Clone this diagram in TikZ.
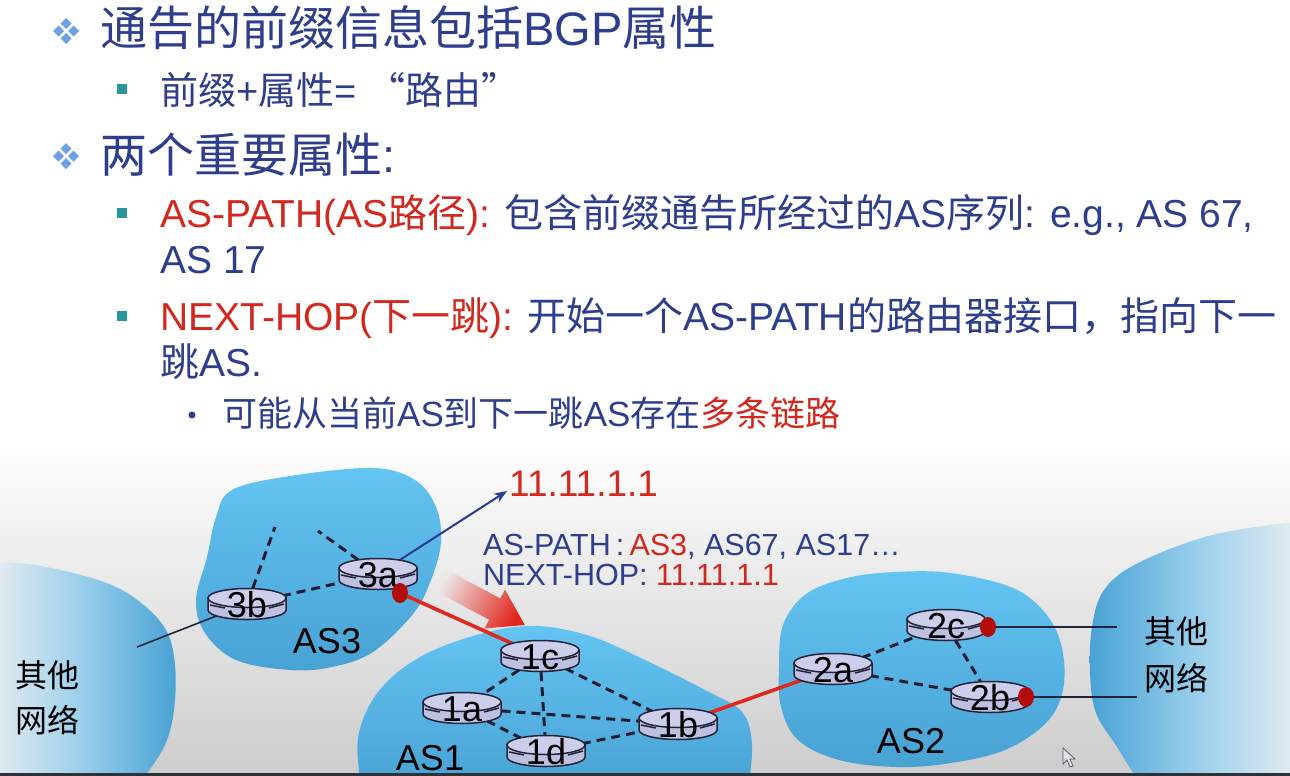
\documentclass[tikz,border=0pt]{standalone}
\usepackage{fontspec}
\setmainfont{Liberation Sans}
\newfontfamily\zh{Noto Sans CJK SC}
\usetikzlibrary{arrows.meta,shapes.geometric}

\definecolor{tblue}{RGB}{46,62,140}
\definecolor{tred}{RGB}{210,40,30}
\definecolor{teal}{RGB}{40,150,155}
\definecolor{diafill}{RGB}{110,160,230}
\definecolor{cloudtop}{RGB}{100,196,242}
\definecolor{cloudbot}{RGB}{72,162,212}
\definecolor{cloudfade}{RGB}{228,236,240}
\definecolor{cloudmid}{RGB}{150,205,235}
\definecolor{rfill}{RGB}{190,192,226}
\definecolor{rtopfill}{RGB}{204,206,236}
\definecolor{rline}{RGB}{35,35,55}
\definecolor{dotred}{RGB}{178,12,12}
\definecolor{linkred}{RGB}{225,40,30}
\definecolor{arrowblue}{RGB}{40,60,150}
\definecolor{dashcol}{RGB}{30,30,50}
\definecolor{bggrey}{RGB}{205,205,205}
\definecolor{strip}{RGB}{46,50,56}
\definecolor{fadebg}{RGB}{236,230,230}
\definecolor{cursorfill}{RGB}{225,225,228}
\definecolor{cursorline}{RGB}{90,90,100}

\pgfdeclarelayer{clouds}
\pgfdeclarelayer{links}
\pgfsetlayers{clouds,links,main}

\tikzset{
  txt/.style={anchor=west,inner sep=0pt,text=tblue},
  cloud/.style={top color=cloudtop,bottom color=cloudbot},
  rbody/.style={fill=rfill,draw=rline,line width=1.5pt},
  rtop/.style={fill=rtopfill,draw=rline,line width=1.5pt},
  rtick/.style={draw=rline,line width=1.5pt},
  rnode/.style={ellipse,minimum width=80pt,minimum height=32pt,inner sep=0pt},
  rtext/.style={anchor=base,inner sep=0pt,font=\fontsize{36}{36}\selectfont},
  rdot/.style={ellipse,fill=dotred,minimum width=16pt,minimum height=20pt,inner sep=0pt},
  dashedlink/.style={draw=dashcol,line width=3pt,dash pattern=on 9pt off 6pt},
  redlink/.style={draw=linkred,line width=3.6pt},
  thinlink/.style={draw=rline,line width=1.6pt},
  bluearrow/.style={draw=arrowblue,line width=2pt,-{Stealth[length=13pt,width=10pt]}},
  aslabel/.style={inner sep=0pt,font=\fontsize{36}{36}\selectfont,text=black},
  zhlabel/.style={inner sep=0pt,font=\zh\fontsize{32}{32}\selectfont,text=black},
  infotext/.style={anchor=west,inner sep=0pt,text=tblue,font=\fontsize{30.5}{30.5}\selectfont},
}

% router: name, x, y of the top ellipse centre, label
\newcommand\router[4]{%
  \path[rbody] (#2-39,#3) -- (#2-39,#3+12)
     arc[start angle=180,end angle=0,x radius=39,y radius=9.5] -- (#2+39,#3) -- cycle;
  \path[rtop] (#2,#3) ellipse[x radius=39,y radius=9.5];
  \draw[rtick] (#2-37,#3+7) -- (#2-22,#3+10);
  \draw[rtick] (#2+22,#3+10) -- (#2+37,#3+6);
  \node[rnode] (#1) at (#2,#3+6) {};
  \node[rtext] (#1t) at (#2,#3+19) {#4};
}

\begin{document}
\begin{tikzpicture}[x=1pt,y=-1pt]
\useasboundingbox (0,0) rectangle (1290,776);
\begin{pgfonlayer}{clouds}
\fill[white] (0,0) rectangle (1290,776);
\shade[top color=white,bottom color=bggrey] (0,440) rectangle (1290,773);
\end{pgfonlayer}

% ---------- bullet list ----------
\foreach \cy in {31,156}{
  \foreach \dx/\dy in {0/-7.5,-7.5/0,7.5/0,0/7.5}{
    \fill[diafill,shift={(\dx,\dy)}] (66,\cy) +(0,-5.5) -- +(5.5,0) -- +(0,5.5) -- +(-5.5,0) -- cycle;
  }
}
\foreach \cy in {89,213,316}{
  \fill[teal] (117,\cy-5) rectangle (127,\cy+5);
}
\fill[tblue] (192,415) circle[radius=3.5];

\node[txt,font=\fontsize{47}{47}\selectfont] (l1) at (100,28)
  {{\zh 通告的前缀信息包括}BGP{\zh 属性}};
\node[txt,font=\fontsize{38}{38}\selectfont] (l2) at (160,90)
  {{\zh 前缀}+{\zh 属性}= {\zh “路由”}};
\node[txt,font=\fontsize{47}{47}\selectfont] (l3) at (100,155)
  {{\zh 两个重要属性}:};
\node[txt,font=\fontsize{39}{39}\selectfont] (l4) at (160,215)
  {{\color{tred}AS-PATH(AS{\zh 路径}):} {\zh 包含前缀通告所经过的}AS{\zh 序列}: e.g., AS 67,};
\node[txt,font=\fontsize{39}{39}\selectfont] (l5) at (160,260) {AS 17};
\node[txt,font=\fontsize{39}{39}\selectfont] (l6) at (160,318)
  {{\color{tred}NEXT-HOP({\zh 下一跳}):} {\zh 开始一个}AS-PATH{\zh 的路由器接口，指向下一}};
\node[txt,font=\fontsize{39}{39}\selectfont] (l7) at (160,362) {{\zh 跳}AS.};
\node[txt,font=\fontsize{35}{35}\selectfont] (l8) at (222,413)
  {{\zh 可能从当前}AS{\zh 到下一跳}AS{\zh 存在}{\color{tred}\zh 多条链路}};

% ---------- networks ----------
\begin{pgfonlayer}{clouds}
% other networks, left and right
\shade[left color=cloudfade,right color=cloudbot,middle color=cloudmid]
  plot[smooth,tension=0.6] coordinates {(-5,562) (41,566) (104,582) (140,602) (166,630) (175,665) (174,710) (165,745) (145,776)}
  -- (-5,776) -- cycle;
\shade[left color=cloudbot,right color=cloudfade,middle color=cloudmid]
  plot[smooth,tension=0.6] coordinates {(1295,522) (1212,535) (1138,563) (1104,590) (1092,627) (1090,673) (1096,713) (1117,747) (1135,776)}
  -- (1295,776) -- cycle;
% AS3
\path[cloud] plot[smooth cycle,tension=0.6] coordinates {
  (232,490) (290,476) (373,468) (415,480) (436,507) (441,542) (431,580) (413,614)
  (373,652) (332,667) (290,670) (236,660) (205,633) (196,600) (207,557) (216,517)};
% AS1
\path[cloud] plot[smooth,tension=0.6] coordinates {
  (362,790) (358,738) (378,692) (420,657) (480,634) (535,626) (590,636) (645,660) (705,690) (742,712) (752,745) (748,790)}
  -- cycle;
% AS2
\path[cloud] plot[smooth cycle,tension=0.6] coordinates {
  (783,625) (806,594) (847,578) (895,572) (951,573) (1013,588) (1046,614) (1062,648)
  (1063,690) (1046,723) (1005,750) (951,763) (897,767) (839,760) (798,740) (781,707) (779,667)};
% fading arrow towards AS1
\shade[top color=fadebg,bottom color=linkred,shading angle=62]
  (445.6,569.4) -- (500.3,598.5) -- (505.0,589.7) -- (524.8,625) -- (484.4,628.5)
  -- (489.1,619.7) -- (434.4,590.6) -- cycle;
\end{pgfonlayer}

% ---------- routers ----------
\router{n3b}{247}{598}{3b}
\router{n3a}{378}{568}{3a}
\router{n1c}{540}{650}{1c}
\router{n1a}{462}{702}{1a}
\router{n1b}{678}{718}{1b}
\router{n1d}{546}{745}{1d}
\router{n2a}{833}{663}{2a}
\router{n2c}{946}{619}{2c}
\router{n2b}{990}{691}{2b}

\coordinate (c3up) at (275,527);
\coordinate (c3left) at (318,531);
\coordinate (oL) at (137,647);
\coordinate (oR1) at (1117,627);
\coordinate (oR2) at (1137,697);
\coordinate (ipend) at (507,491);

\node[rdot] (d3a) at (400,593) {};
\node[rdot] (d2c) at (988,627) {};
\node[rdot] (d2b) at (1026,697) {};

% ---------- links ----------
\begin{pgfonlayer}{links}
\draw[dashedlink] (n3b) -- (c3up);
\draw[dashedlink] (n3a) -- (c3left);
\draw[dashedlink] (n3b) -- (n3a);
\draw[dashedlink] (n1c) -- (n1a);
\draw[dashedlink] (n1c) -- (n1d);
\draw[dashedlink] (n1c) -- (n1b);
\draw[dashedlink] (n1a) -- (n1b);
\draw[dashedlink] (n1a) -- (n1d);
\draw[dashedlink] (n1d) -- (n1b);
\draw[dashedlink] (n2a) -- (n2c);
\draw[dashedlink] (n2c) -- (n2b);
\draw[dashedlink] (n2a) -- (n2b);
\draw[thinlink] (n3b) -- (oL);
\draw[thinlink] (d2c) -- (oR1);
\draw[thinlink] (d2b) -- (oR2);
\draw[redlink] (d3a) -- (n1c);
\draw[redlink] (n1b) -- (n2a);
\draw[bluearrow] (n3a) -- (ipend);
\end{pgfonlayer}

% ---------- labels ----------
\node[anchor=west,inner sep=0pt,text=tred,font=\fontsize{37}{37}\selectfont] (ip) at (509,484) {11.11.1.1};
\node[infotext] (aspath) at (483,547) {AS-PATH\,:\,{\color{tred}AS3}, AS67, AS17…};
\node[infotext] (nexthop) at (483,575) {NEXT-HOP: {\color{tred}11.11.1.1}};

\node[aslabel] (as3) at (327,641) {AS3};
\node[aslabel,anchor=base] (as1) at (430,770) {AS1};
\node[aslabel] (as2) at (911,741) {AS2};

\node[zhlabel] (othL1) at (48,675) {其他};
\node[zhlabel] (othL2) at (48,720) {网络};
\node[zhlabel] (othR1) at (1176,631) {其他};
\node[zhlabel] (othR2) at (1176,678) {网络};

% mouse pointer
\filldraw[fill=cursorfill,draw=cursorline,line width=0.8pt]
  (1063,748) -- (1063,764) -- (1067,760) -- (1070,767) -- (1073,766) -- (1070,759) -- (1075,759) -- cycle;

% bottom edge
\fill[strip] (0,773) rectangle (1290,776);
\end{tikzpicture}
\end{document}
